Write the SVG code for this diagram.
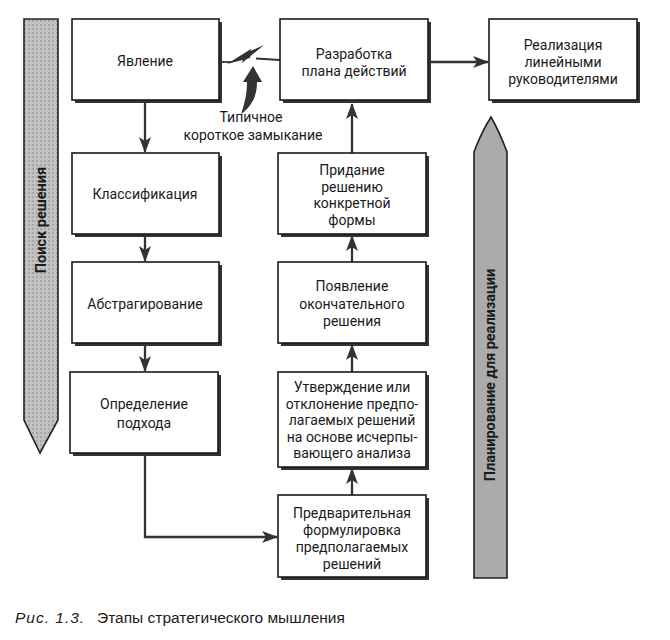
<svg xmlns="http://www.w3.org/2000/svg" width="670" height="640" viewBox="0 0 670 640">
<defs>
<marker id="ah" markerWidth="16" markerHeight="12" refX="15" refY="6" orient="auto" markerUnits="userSpaceOnUse">
<path d="M0,0 L16,6 L0,12 L4,6 Z" fill="#333"/>
</marker>
<pattern id="dots" width="4" height="4" patternUnits="userSpaceOnUse">
<rect width="4" height="4" fill="#c2c2c2"/>
<rect x="0" y="0" width="2" height="2" fill="#a6a6a6"/>
</pattern>
</defs>
<style>
.box{fill:#fff;stroke:#1a1a1a;stroke-width:1.6}
.sh{fill:#333}
.t{font-family:Roboto,"Noto Sans",sans-serif;font-size:14px;fill:#1a1a1a;text-anchor:middle}
.ban{stroke:#222;stroke-width:1.6}
.bt{font-family:Roboto,"Noto Sans",sans-serif;font-size:14.5px;font-weight:bold;fill:#1a1a1a;text-anchor:middle}
.ln{fill:none;stroke:#333;stroke-width:2.3}
.cap{font-family:"Liberation Sans",Arial,sans-serif;font-size:15.5px;fill:#1a1a1a}
</style>
<rect width="670" height="640" fill="#fff"/>

<g id="banner-left">
<path class="ban" d="M24,19 L58,19 L58,420 L40,453 L24,420 Z" fill="url(#dots)"/>
<text class="bt" transform="translate(46,220) rotate(-90)">Поиск решения</text>
</g>

<g id="banner-right">
<path class="ban" d="M491,117 Q500,133 507,152 L507,578 L474,578 L474,152 Q481,133 491,117 Z" fill="#ababab"/>
<text class="bt" transform="translate(495,375) rotate(-90)">Планирование для реализации</text>
</g>

<g id="connectors">
<line class="ln" x1="145" y1="101" x2="145" y2="152" marker-end="url(#ah)"/>
<line class="ln" x1="145" y1="236" x2="145" y2="261" marker-end="url(#ah)"/>
<line class="ln" x1="145" y1="345" x2="145" y2="371" marker-end="url(#ah)"/>
<polyline class="ln" points="145,455 145,537 277,537" marker-end="url(#ah)"/>
<line class="ln" x1="352" y1="495" x2="352" y2="469" marker-end="url(#ah)"/>
<line class="ln" x1="352" y1="372" x2="352" y2="345" marker-end="url(#ah)"/>
<line class="ln" x1="352" y1="262" x2="352" y2="236" marker-end="url(#ah)"/>
<line class="ln" x1="352" y1="153" x2="352" y2="104" marker-end="url(#ah)"/>
<line class="ln" x1="429" y1="62" x2="488" y2="62" marker-end="url(#ah)"/>
<g id="short-circuit">
<path d="M220,62 L232,62" stroke="#333" stroke-width="1.8" fill="none"/>
<path d="M256,58.5 L280,60" stroke="#333" stroke-width="1.8" fill="none"/>
<path d="M227,64 L251,49 L250,58 Z" fill="#333"/>
<path d="M242,63 L244,54 L264,45 Z" fill="#333"/>
<path d="M241,114 C245,102 247,93 247,82 L243,82 L253,66 L262,82 L257,82 C257,95 253,105 241,114 Z" fill="#333"/>
</g>
</g>

<g id="n-yavlenie">
<rect class="sh" x="75" y="22" width="147" height="81"/>
<rect class="box" x="72" y="19" width="147" height="81"/>
<text class="t" x="145" y="66">Явление</text>
</g>

<g id="n-razrabotka">
<rect class="sh" x="283" y="22" width="148" height="81"/>
<rect class="box" x="280" y="19" width="148" height="81"/>
<text class="t" x="354" y="59">Разработка</text>
<text class="t" x="354" y="76">плана действий</text>
</g>

<g id="n-realizatsiya">
<rect class="sh" x="492" y="22" width="148" height="81"/>
<rect class="box" x="489" y="19" width="148" height="81"/>
<text class="t" x="563" y="50">Реализация</text>
<text class="t" x="563" y="67">линейными</text>
<text class="t" x="563" y="84">руководителями</text>
</g>

<g id="label-short">
<text class="t" x="251" y="122">Типичное</text>
<text class="t" x="253" y="140">короткое замыкание</text>
</g>

<g id="n-klassifikatsiya">
<rect class="sh" x="75" y="156" width="147" height="81"/>
<rect class="box" x="72" y="153" width="147" height="81"/>
<text class="t" x="145" y="199">Классификация</text>
</g>

<g id="n-abstragirovanie">
<rect class="sh" x="75" y="265" width="147" height="81"/>
<rect class="box" x="72" y="262" width="147" height="81"/>
<text class="t" x="145" y="309">Абстрагирование</text>
</g>

<g id="n-opredelenie">
<rect class="sh" x="73" y="375" width="148" height="81"/>
<rect class="box" x="70" y="372" width="148" height="81"/>
<text class="t" x="144" y="409">Определение</text>
<text class="t" x="144" y="428">подхода</text>
</g>

<g id="n-predvaritelnaya">
<rect class="sh" x="281" y="498" width="148" height="82"/>
<rect class="box" x="278" y="495" width="148" height="82"/>
<text class="t" x="352" y="518">Предварительная</text>
<text class="t" x="352" y="535">формулировка</text>
<text class="t" x="352" y="552">предполагаемых</text>
<text class="t" x="352" y="569">решений</text>
</g>

<g id="n-utverzhdenie">
<rect class="sh" x="281" y="375" width="148" height="95"/>
<rect class="box" x="278" y="372" width="148" height="95"/>
<text class="t" x="352" y="392">Утверждение или</text>
<text class="t" x="352" y="408.5">отклонение предпо-</text>
<text class="t" x="352" y="425">лагаемых решений</text>
<text class="t" x="352" y="441.5">на основе исчерпы-</text>
<text class="t" x="352" y="458">вающего анализа</text>
</g>

<g id="n-poyavlenie">
<rect class="sh" x="281" y="265" width="148" height="81"/>
<rect class="box" x="278" y="262" width="148" height="81"/>
<text class="t" x="352" y="291">Появление</text>
<text class="t" x="352" y="309">окончательного</text>
<text class="t" x="352" y="326">решения</text>
</g>

<g id="n-pridanie">
<rect class="sh" x="281" y="156" width="148" height="81"/>
<rect class="box" x="278" y="153" width="148" height="81"/>
<text class="t" x="352" y="175">Придание</text>
<text class="t" x="352" y="191.5">решению</text>
<text class="t" x="352" y="208">конкретной</text>
<text class="t" x="352" y="225">формы</text>
</g>

<g id="caption">
<text class="cap" x="15" y="623"><tspan font-style="italic" letter-spacing="1">Рис. 1.3.</tspan><tspan x="97">Этапы стратегического мышления</tspan></text>
</g>
</svg>
